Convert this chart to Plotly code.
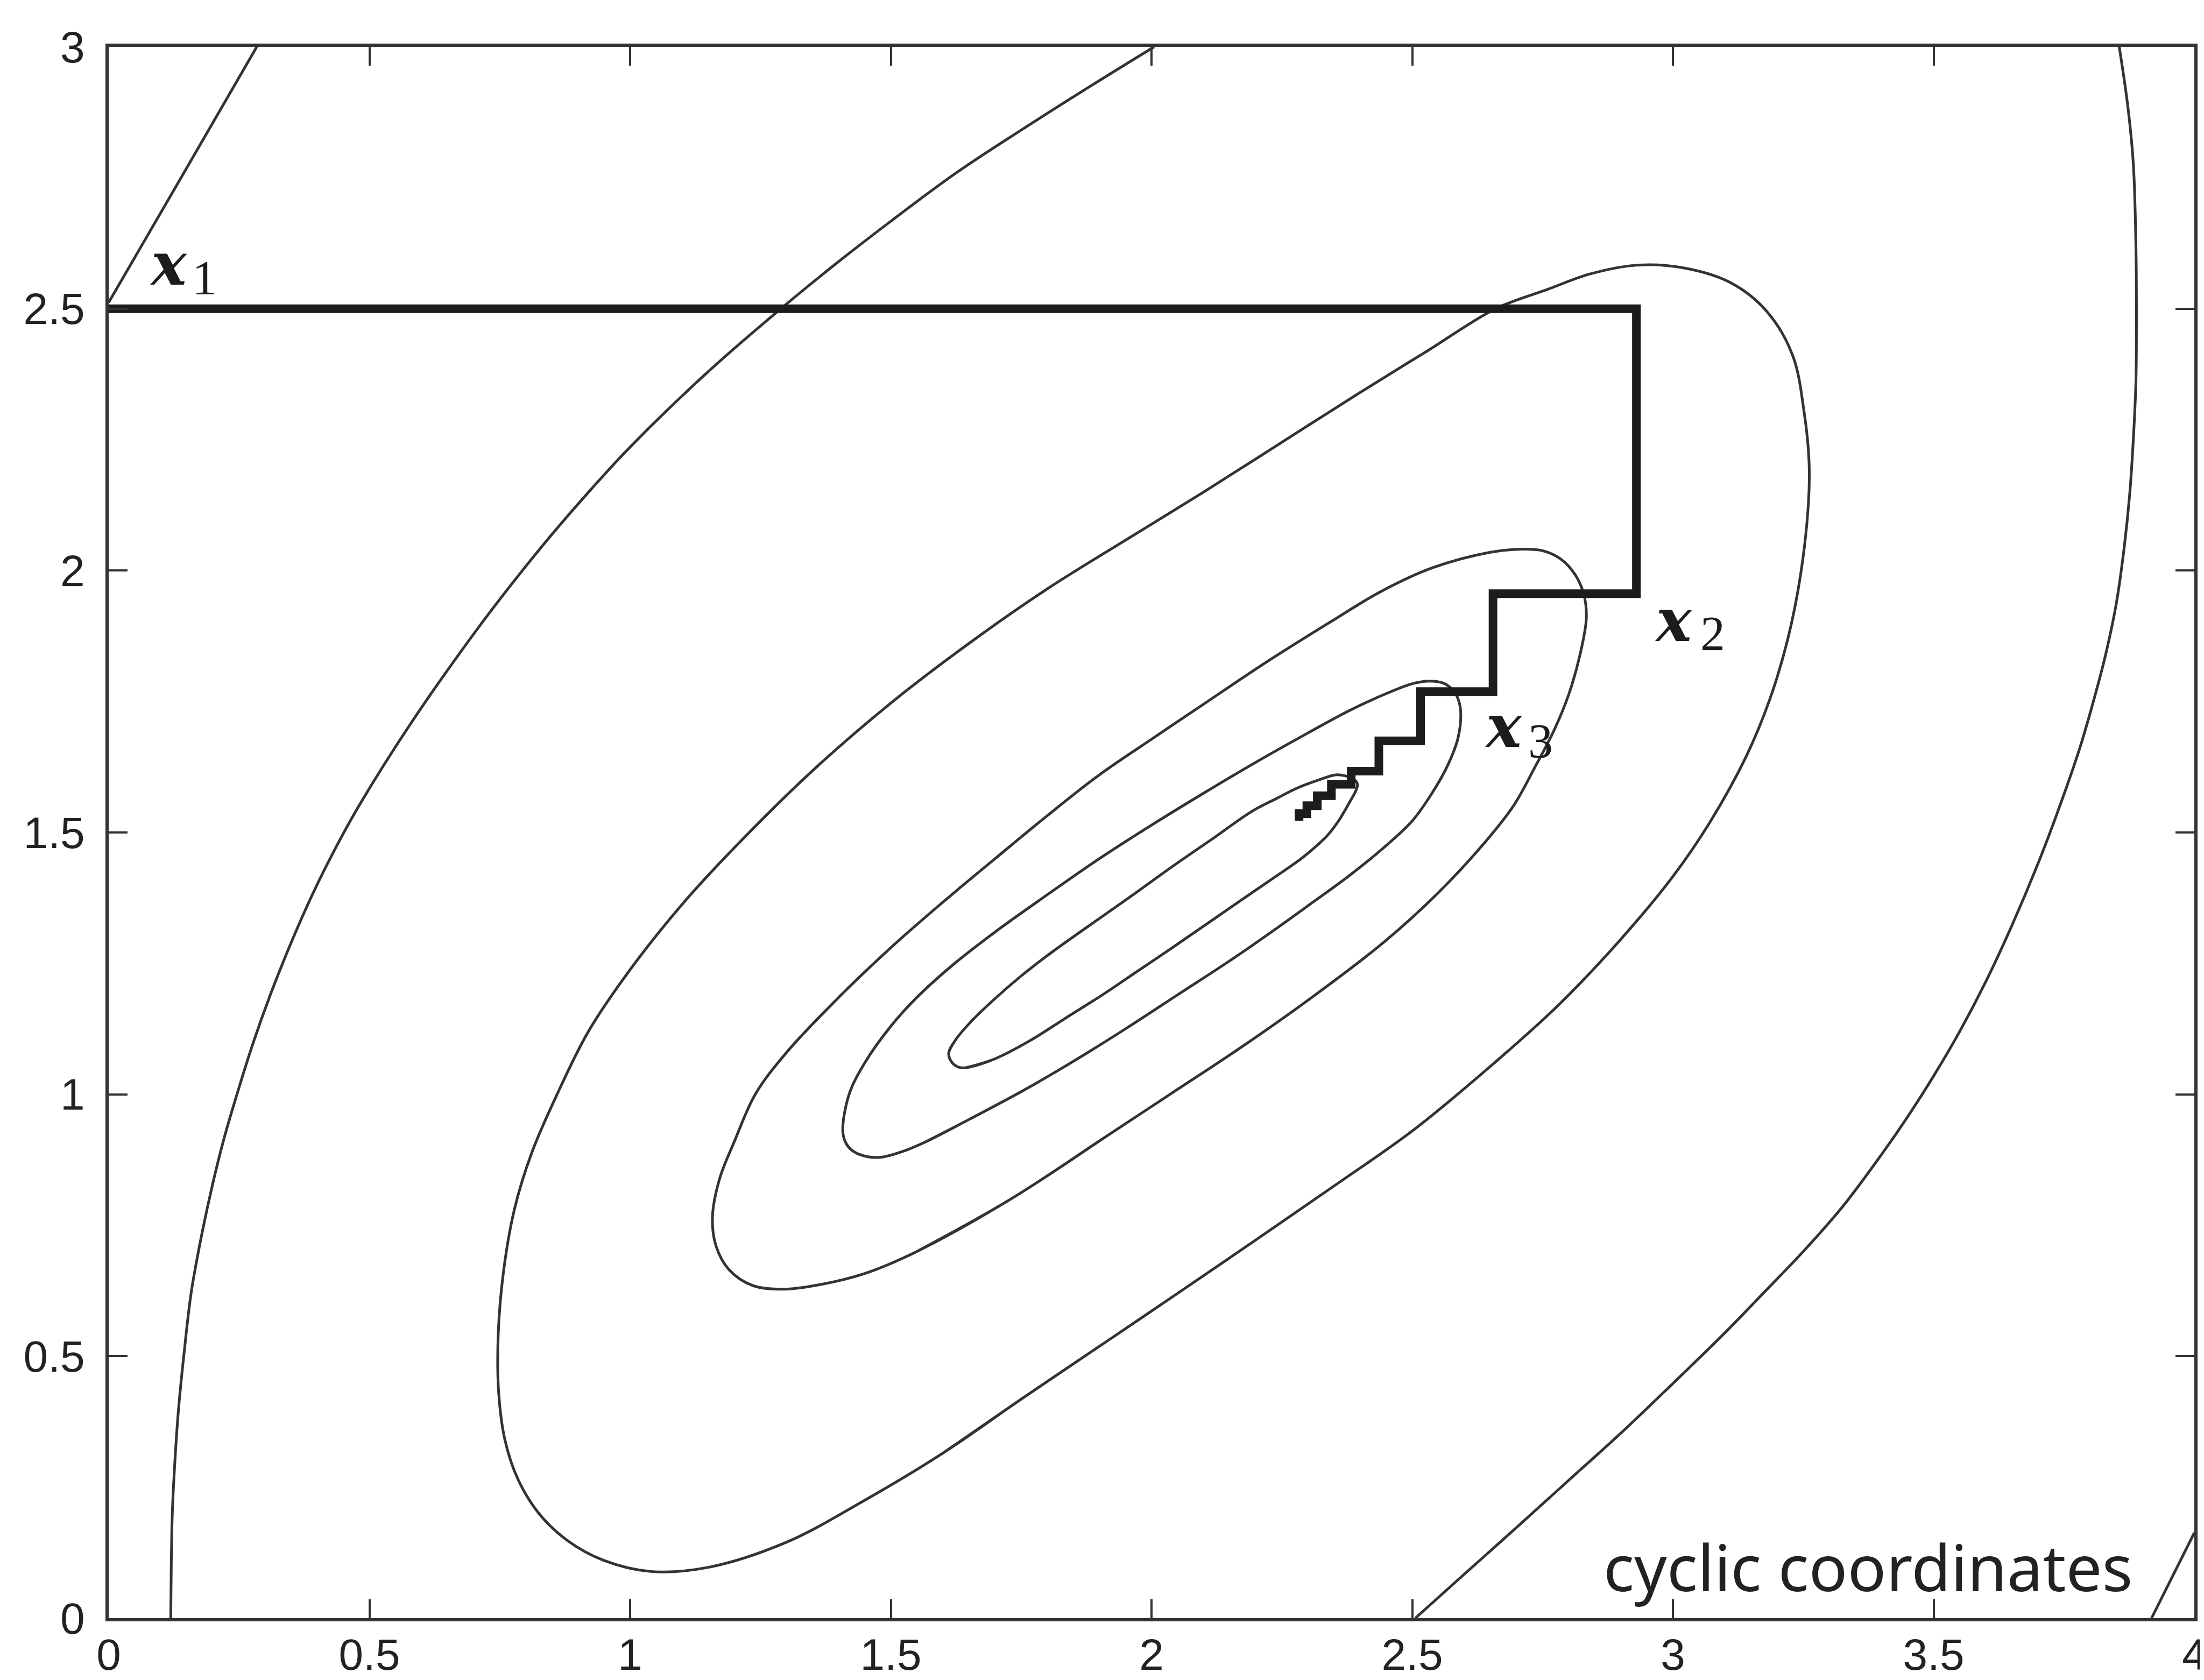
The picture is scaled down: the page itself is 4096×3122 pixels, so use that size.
import plotly.graph_objects as go

# ---------------- data (data units) ----------------
# coordinate-descent iterates (staircase path)
path_x = [0.0, 2.93, 2.93, 2.655, 2.655, 2.516, 2.516, 2.436, 2.436, 2.383, 2.383,
          2.345, 2.345, 2.318, 2.318, 2.298, 2.298, 2.283, 2.283]
path_y = [2.5, 2.5, 1.956, 1.956, 1.769, 1.769, 1.675, 1.675, 1.617, 1.617, 1.592,
          1.592, 1.570, 1.570, 1.551, 1.551, 1.536, 1.536, 1.522]

# open contour pieces
curve_a_x = [0.0, 0.13, 0.284]
curve_a_y = [2.512, 2.735, 3.0]

curve_b_x = [0.119, 0.120, 0.122, 0.127, 0.134, 0.145, 0.158, 0.177, 0.199, 0.221,
             0.246, 0.276, 0.310, 0.348, 0.390, 0.435, 0.480, 0.580, 0.700, 0.775,
             0.850, 0.925, 1.000, 1.150, 1.300, 1.400, 1.500, 1.625, 1.750, 1.870, 2.005]
curve_b_y = [0.0, 0.10, 0.20, 0.30, 0.40, 0.51, 0.62, 0.725, 0.827, 0.915,
             1.0, 1.095, 1.19, 1.285, 1.38, 1.470, 1.551, 1.709, 1.879, 1.977,
             2.069, 2.155, 2.236, 2.380, 2.509, 2.590, 2.667, 2.759, 2.841, 2.917, 3.0]

curve_r_x = [2.506, 2.60, 2.70, 2.80, 2.90, 3.00, 3.10, 3.175, 3.25, 3.325, 3.40,
             3.45, 3.50, 3.55, 3.60, 3.65, 3.70, 3.74, 3.78, 3.805, 3.83, 3.85,
             3.865, 3.876, 3.883, 3.888, 3.889, 3.888, 3.883, 3.872, 3.856]
curve_r_y = [0.0, 0.084, 0.173, 0.263, 0.353, 0.448, 0.545, 0.622, 0.70, 0.785, 0.885,
             0.957, 1.035, 1.12, 1.215, 1.322, 1.44, 1.545, 1.66, 1.745, 1.84, 1.935,
             2.04, 2.145, 2.25, 2.36, 2.47, 2.62, 2.777, 2.89, 3.0]

curve_c_x = [3.918, 4.0]
curve_c_y = [0.0, 0.163]

# closed contours (innermost e1 .. outermost e4)
e1_x = [1.645, 1.700, 1.766, 1.836, 1.906, 1.973, 2.040, 2.120, 2.200, 2.250, 2.287,
        2.316, 2.338, 2.360, 2.380, 2.392, 2.395, 2.388, 2.372, 2.353, 2.320, 2.280,
        2.240, 2.192, 2.120, 2.040, 1.973, 1.906, 1.807, 1.750, 1.699, 1.655, 1.625,
        1.611, 1.618, 1.630]
e1_y = [1.051, 1.068, 1.102, 1.146, 1.190, 1.235, 1.280, 1.335, 1.390, 1.424, 1.450,
        1.474, 1.495, 1.524, 1.558, 1.580, 1.592, 1.602, 1.608, 1.610, 1.600, 1.585,
        1.565, 1.540, 1.490, 1.435, 1.387, 1.340, 1.270, 1.226, 1.182, 1.140, 1.105,
        1.078, 1.060, 1.052]

e2_x = [1.564, 1.650, 1.750, 1.850, 1.950, 2.050, 2.150, 2.230, 2.300, 2.380, 2.450,
        2.500, 2.538, 2.568, 2.588, 2.593, 2.588, 2.578, 2.560, 2.533, 2.500, 2.450,
        2.380, 2.300, 2.200, 2.100, 2.000, 1.900, 1.800, 1.700, 1.620, 1.550, 1.500,
        1.450, 1.420, 1.408, 1.415, 1.430, 1.455, 1.482, 1.520]
e2_y = [0.908, 0.952, 1.005, 1.063, 1.125, 1.190, 1.255, 1.310, 1.360, 1.418, 1.475,
        1.522, 1.575, 1.628, 1.681, 1.730, 1.755, 1.772, 1.785, 1.789, 1.784, 1.765,
        1.733, 1.690, 1.634, 1.575, 1.514, 1.450, 1.381, 1.310, 1.248, 1.185, 1.130,
        1.060, 1.000, 0.929, 0.905, 0.890, 0.881, 0.880, 0.890]

e3_x = [1.550, 1.730, 1.906, 2.040, 2.175, 2.310, 2.445, 2.550, 2.641, 2.695, 2.735,
        2.772, 2.800, 2.822, 2.834, 2.829, 2.812, 2.785, 2.750, 2.711, 2.650, 2.538,
        2.440, 2.340, 2.220, 2.100, 2.000, 1.900, 1.800, 1.700, 1.600, 1.500, 1.400,
        1.300, 1.240, 1.200, 1.172, 1.158, 1.165, 1.190, 1.235, 1.293, 1.360, 1.450]
e3_y = [0.700, 0.800, 0.915, 1.003, 1.092, 1.187, 1.290, 1.385, 1.483, 1.552, 1.624,
        1.695, 1.763, 1.840, 1.910, 1.955, 1.993, 2.022, 2.038, 2.041, 2.035, 2.005,
        1.960, 1.900, 1.825, 1.745, 1.678, 1.610, 1.532, 1.450, 1.367, 1.280, 1.185,
        1.080, 1.000, 0.910, 0.840, 0.766, 0.710, 0.665, 0.635, 0.628, 0.636, 0.658]

e4_x = [1.600, 1.750, 1.906, 2.050, 2.200, 2.350, 2.500, 2.640, 2.780, 2.900, 3.000,
        3.070, 3.140, 3.185, 3.220, 3.245, 3.260, 3.261, 3.252, 3.230, 3.180, 3.110,
        3.020, 2.930, 2.840, 2.760, 2.660, 2.530, 2.400, 2.250, 2.100, 1.950, 1.800,
        1.650, 1.500, 1.350, 1.200, 1.100, 1.000, 0.920, 0.860, 0.812, 0.778, 0.757,
        0.747, 0.748, 0.760, 0.785, 0.825, 0.880, 0.950, 1.040, 1.150, 1.300, 1.450]
e4_y = [0.315, 0.418, 0.523, 0.620, 0.722, 0.825, 0.930, 1.045, 1.170, 1.296, 1.416,
        1.518, 1.644, 1.752, 1.868, 1.993, 2.130, 2.210, 2.300, 2.410, 2.495, 2.550,
        2.578, 2.583, 2.566, 2.537, 2.500, 2.420, 2.340, 2.245, 2.150, 2.058, 1.965,
        1.861, 1.747, 1.618, 1.471, 1.363, 1.238, 1.120, 1.000, 0.890, 0.780, 0.660,
        0.540, 0.430, 0.340, 0.265, 0.200, 0.148, 0.110, 0.089, 0.097, 0.145, 0.225]

tick_vals_x = [0, 0.5, 1, 1.5, 2, 2.5, 3, 3.5, 4]
tick_text_x = ["0", "0.5", "1", "1.5", "2", "2.5", "3", "3.5", "4"]
tick_vals_y = [0, 0.5, 1, 1.5, 2, 2.5, 3]
tick_text_y = ["0", "0.5", "1", "1.5", "2", "2.5", "3"]

# iterate labels: (index, x-glyph centre, subscript centre)
iter_labels = [("1", (0.1155, 2.575), (0.1835, 2.559)),
               ("2", (3.002, 1.895), (3.076, 1.880)),
               ("3", (2.675, 1.693), (2.746, 1.675))]
caption = "cyclic coordinates"

# ---------------- figure ----------------
LINE = "#333333"
fig = go.Figure()


def closed(xs, ys):
    # repeat the first points so the smooth curve closes without a kink
    return xs + xs[:3], ys + ys[:3]


contour_line = dict(color=LINE, width=5, shape="spline", smoothing=1.0, simplify=False)

for xs, ys in [(curve_a_x, curve_a_y), (curve_b_x, curve_b_y),
               (curve_r_x, curve_r_y), (curve_c_x, curve_c_y)]:
    fig.add_trace(go.Scatter(x=xs, y=ys, mode="lines", line=contour_line,
                             hoverinfo="skip", showlegend=False))

for xs, ys in [(e1_x, e1_y), (e2_x, e2_y), (e3_x, e3_y), (e4_x, e4_y)]:
    cx, cy = closed(xs, ys)
    fig.add_trace(go.Scatter(x=cx, y=cy, mode="lines", line=contour_line,
                             hoverinfo="skip", showlegend=False))

fig.add_trace(go.Scatter(x=path_x, y=path_y, mode="lines",
                         line=dict(color="#1c1c1c", width=16),
                         hoverinfo="skip", showlegend=False))

for idx, (gx, gy), (sx, sy) in iter_labels:
    fig.add_annotation(x=gx, y=gy + 0.010, xref="x", yref="y",
                       text="<b><i>x</i></b>", showarrow=False,
                       xanchor="center", yanchor="middle",
                       font=dict(family="DejaVu Serif", size=110, color="#1c1c1c"))
    fig.add_annotation(x=sx, y=sy, xref="x", yref="y", text=idx, showarrow=False,
                       xanchor="center", yanchor="middle",
                       font=dict(family="Liberation Serif", size=92, color="#1c1c1c"))

fig.add_annotation(x=3.884, y=0.184, xref="x", yref="y", text=caption, showarrow=False,
                   xanchor="right", yanchor="top",
                   font=dict(family="Noto Sans", size=119, color="#222222"))

axis_common = dict(showgrid=False, zeroline=False, showline=True, linewidth=6,
                   linecolor=LINE, mirror="ticks", ticks="inside", ticklen=35,
                   tickwidth=4, tickcolor=LINE, ticklabeloverflow="allow",
                   automargin=False,
                   tickfont=dict(family="Liberation Sans", size=82, color="#222222"))

fig.update_xaxes(range=[0, 4], tickmode="array", tickvals=tick_vals_x,
                 ticktext=tick_text_x, ticklabelstandoff=-8, **axis_common)
fig.update_yaxes(range=[0, 3], tickmode="array", tickvals=tick_vals_y,
                 ticktext=tick_text_y, ticklabelstandoff=22, **axis_common)

fig.update_layout(width=4096, height=3122,
                  margin=dict(l=194, r=26, t=79, b=123, pad=0),
                  paper_bgcolor="white", plot_bgcolor="white")

fig.write_html("out.html")
